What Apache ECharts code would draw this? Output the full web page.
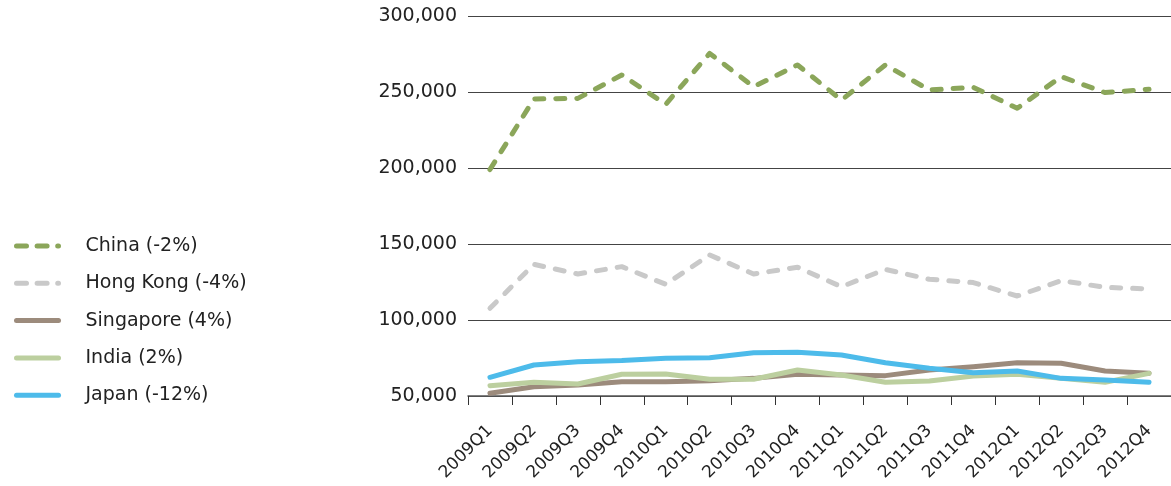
<!DOCTYPE html>
<html><head><meta charset="utf-8">
<script src="https://cdn.jsdelivr.net/npm/echarts@6/dist/echarts.min.js"></script>
<style>html,body{margin:0;padding:0;background:#fff}#c{width:1171px;height:486px}</style>
</head><body><div id="c"></div>
<script>
const categories = ['2009Q1','2009Q2','2009Q3','2009Q4','2010Q1','2010Q2','2010Q3','2010Q4','2011Q1','2011Q2','2011Q3','2011Q4','2012Q1','2012Q2','2012Q3','2012Q4'];
const china = [199000,245400,245800,261200,241900,275400,253500,267800,244700,267800,251300,253100,239300,260100,249600,251800];
const hongKong = [107700,136600,130300,135100,123500,142800,130300,134700,121900,133300,126800,124600,115800,125900,121500,120400];
const singapore = [51800,56100,57300,59400,59400,60100,61600,64300,63800,63400,67100,69300,71900,71500,66400,64900];
const india = [56800,59000,57900,64300,64500,61000,61000,67100,63800,59000,59900,63200,64300,61600,59000,64900];
const japan = [62300,70400,72600,73300,74800,75200,78500,78800,77000,71900,68200,65300,66400,61600,60500,59000];
const seriesNames = ['China (-2%)','Hong Kong (-4%)','Singapore (4%)','India (2%)','Japan (-12%)'];
const yTicks = {min:50000, max:300000, interval:50000};

const font = 'DejaVu Sans';
function mk(name, data, color, dashed){
  return {name, type:'line', data, symbol:'none', smooth:false,
    lineStyle:{color, width:5, type: dashed ? [9,12] : 'solid', cap:'round', join:'round'},
    itemStyle:{color}};
}
const legendData = seriesNames.map((n, i) => i < 2 ? {name:n, lineStyle:{type:[10,10.6]}} : {name:n});
const chart = echarts.init(document.getElementById('c'), null, {renderer:'canvas'});
chart.setOption({
  animation:false,
  grid:{left:468, right:0, top:16, bottom:90, containLabel:false},
  legend:{orient:'vertical', left:14, top:235, padding:0, itemWidth:42, itemHeight:22, itemGap:15.3,
    itemStyle:{opacity:0},
    lineStyle:{width:5},
    textStyle:{fontFamily:font, fontSize:19, color:'#222', lineHeight:22, padding:[0,0,0,22]},
    data:legendData},
  xAxis:{type:'category', data:categories, boundaryGap:true,
    axisLine:{lineStyle:{color:'#555', width:1.5}},
    axisTick:{show:true, interval:0, inside:false, alignWithLabel:false, length:9, lineStyle:{color:'#333', width:1}},
    axisLabel:{rotate:45, interval:0, margin:32, padding:[14,0,0,0], fontFamily:font, fontSize:17, color:'#222'}},
  yAxis:{type:'value', min:yTicks.min, max:yTicks.max, interval:yTicks.interval,
    axisLine:{show:false}, axisTick:{show:false},
    splitLine:{lineStyle:{color:'#444', width:1.2}},
    axisLabel:{margin:11, fontFamily:font, fontSize:19, color:'#222',
      formatter:v=>v.toLocaleString('en-US')}},
  series:[
    mk(seriesNames[0], china, '#8ba65a', true),
    mk(seriesNames[1], hongKong, '#c9c9c9', true),
    mk(seriesNames[2], singapore, '#9c8b7c', false),
    mk(seriesNames[3], india, '#bccf9f', false),
    mk(seriesNames[4], japan, '#4dbbea', false)
  ]
});
</script></body></html>
